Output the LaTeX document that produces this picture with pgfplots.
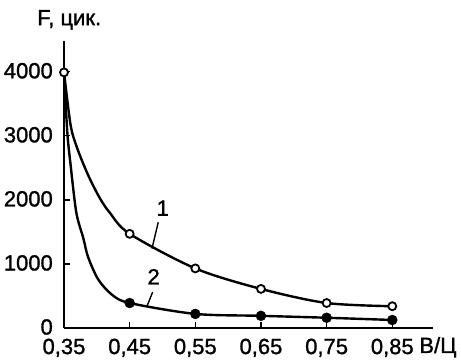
\documentclass[border=0pt]{standalone}
\usepackage{fontspec}
\setmainfont{Liberation Sans}[FakeBold=1.2]
\usepackage{pgfplots}
\pgfplotsset{compat=1.18}
\newcommand{\fs}{\fontsize{22}{26}\selectfont}
\begin{document}
\begin{tikzpicture}
\path[use as bounding box] (-64pt,-33pt) rectangle (397pt,328pt);
\begin{axis}[
  at={(0,0)}, anchor=south west,
  scale only axis, width=369pt, height=287pt,
  xmin=0.35, xmax=0.912, ymin=0, ymax=4480,
  axis lines*=left,
  axis line style={line width=1.5pt},
  xtick={0.35,0.45,0.55,0.65,0.75,0.85},
  xticklabels={0{,}35,0{,}45,0{,}55,0{,}65,0{,}75,0{,}85},
  ytick={0,1000,2000,3000,4000},
  tick align=inside, major tick length=6pt,
  tick style={line width=1.3pt, black},
  tick label style={font=\fs, inner sep=0pt},
  /pgf/number format/assume math mode=true,
  /pgf/number format/1000 sep={},
  yticklabel style={xshift=-11pt, yshift=1pt},
  xticklabel style={yshift=-10.5pt},
  clip=false,
]
% curve 2
\addplot[smooth, line width=2.4pt, black] coordinates {
 (0.35,4000) (0.355,3060) (0.360,2550) (0.3688,1800) (0.3795,1400) (0.3866,1110)
 (0.402,760) (0.423,520) (0.45,390) (0.55,220) (0.65,190) (0.75,160) (0.85,125)};
\addplot[only marks, mark=*, mark size=5pt, black] coordinates {
 (0.45,390) (0.55,220) (0.65,190) (0.75,160) (0.85,125)};
% curve 1
\addplot[smooth, line width=2.4pt, black] coordinates {
 (0.35,4000) (0.360,3170) (0.370,2810) (0.3866,2390) (0.4044,2030) (0.4197,1800) (0.45,1470)
 (0.55,930) (0.65,610) (0.75,390) (0.85,340)};
\addplot[only marks, mark=*, mark size=4pt, mark options={fill=white, line width=1.8pt}, black] coordinates {
 (0.35,3990) (0.45,1470) (0.55,930) (0.65,610) (0.75,390) (0.85,340)};
% annotations
\draw[line width=1.4pt] (axis cs:0.4935,1650) -- (axis cs:0.484,1240);
\node[font=\fs, inner sep=0pt] at (axis cs:0.5005,1870) {1};
\draw[line width=1.4pt] (axis cs:0.485,560) -- (axis cs:0.476,330);
\node[font=\fs, inner sep=0pt] at (axis cs:0.4865,800) {2};
\node[anchor=west, inner sep=0pt, font=\fs] at (axis cs:0.891,-300) {В/Ц};
\node[anchor=west, inner sep=0pt, font=\fs] at (axis cs:0.309,4810) {F, цик.};
\end{axis}
\end{tikzpicture}
\end{document}
